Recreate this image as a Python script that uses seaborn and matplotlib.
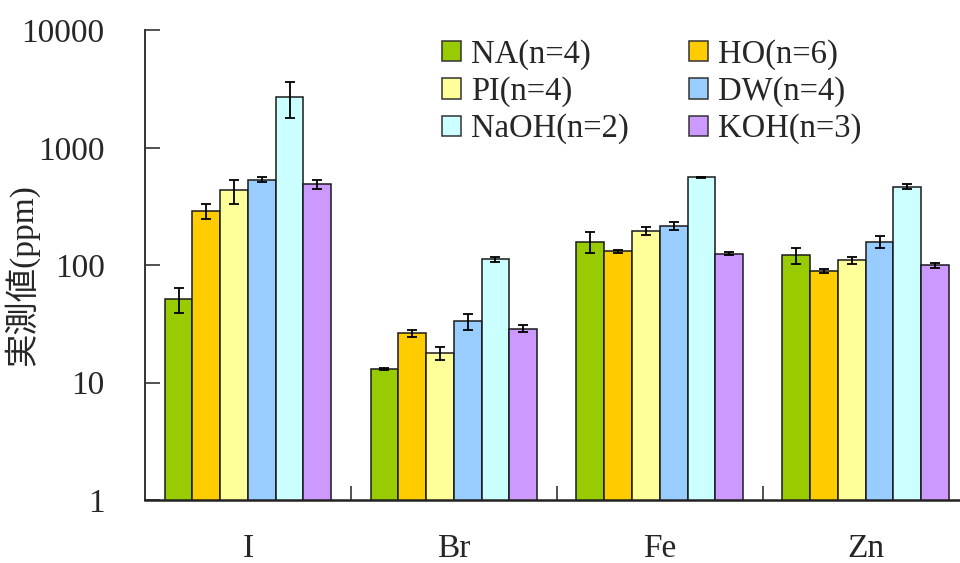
import numpy as np
import pandas as pd
import matplotlib
matplotlib.use("Agg")
import matplotlib.pyplot as plt
from matplotlib.patches import Patch
import seaborn as sns

# Measured concentrations (ppm): mean and standard deviation per element and extraction method
elements = ["I", "Br", "Fe", "Zn"]
methods = ["NA(n=4)", "HO(n=6)", "PI(n=4)", "DW(n=4)", "NaOH(n=2)", "KOH(n=3)"]
colors = ["#99CC00", "#FFCC00", "#FFFF99", "#99CCFF", "#CCFFFF", "#CC99FF"]

na_mean = [51.5, 13.1, 158, 122]
ho_mean = [290, 26.3, 131, 89]
pi_mean = [435, 17.9, 197, 110]
dw_mean = [535, 33.3, 216, 158]
naoh_mean = [2725, 112, 561, 466]
koh_mean = [489, 28.8, 125, 100]

na_sd = [12, 0.3, 32, 19]
ho_sd = [42, 2.0, 3, 3]
pi_sd = [100, 2.3, 15, 7]
dw_sd = [26, 5.0, 16, 18]
naoh_sd = [920, 5.0, 8, 22]
koh_sd = [42, 2.0, 4, 5]

y_ticks = [1, 10, 100, 1000, 10000]
y_tick_labels = ["1", "10", "100", "1000", "10000"]
y_label = "実測値(ppm)"

means = [na_mean, ho_mean, pi_mean, dw_mean, naoh_mean, koh_mean]
sds = [na_sd, ho_sd, pi_sd, dw_sd, naoh_sd, koh_sd]

rows = []
for m, mv, sv in zip(methods, means, sds):
    for e, v, s in zip(elements, mv, sv):
        rows.append({"element": e, "method": m, "value": v, "sd": s})
df = pd.DataFrame(rows)

sns.set_theme(style="ticks")
plt.rcParams["font.family"] = ["Liberation Serif", "Noto Sans CJK JP", "DejaVu Sans"]

fig = plt.figure(figsize=(9.6, 5.63), dpi=100)
ax = fig.add_axes([145 / 960, 63 / 563, 823.6 / 960, 469.6 / 563])

sns.barplot(
    data=df, x="element", y="value", hue="method",
    order=elements, hue_order=methods, palette=colors,
    width=0.809, gap=0, errorbar=None, legend=False,
    edgecolor="#1a1a1a", linewidth=1.1, saturation=1, ax=ax,
)

# error bars on top of each bar
for container, sv in zip(ax.containers, sds):
    xs = [p.get_x() + p.get_width() / 2 for p in container.patches]
    hs = [p.get_height() for p in container.patches]
    ax.errorbar(xs, hs, yerr=sv, fmt="none", ecolor="black",
                elinewidth=1.3, capsize=3.6, capthick=1.3, zorder=5)

ax.set_yscale("log")
ax.set_ylim(1, 10000)
ax.set_xlim(-0.5, len(elements) - 0.5)
ax.set_yticks(y_ticks)
ax.set_yticklabels(y_tick_labels)
ax.yaxis.set_minor_locator(matplotlib.ticker.NullLocator())

# category separators as inward major ticks, labels on minor ticks at group centres
ax.set_xticks(np.arange(0.5, len(elements) - 0.5, 1.0))
ax.set_xticklabels([])
ax.set_xticks(np.arange(len(elements)), minor=True)
ax.set_xticklabels(elements, minor=True)
ax.tick_params(axis="x", which="major", direction="in", length=10, width=1.2, color="#333333")
ax.tick_params(axis="x", which="minor", length=0, pad=24, labelsize=24)
ax.tick_params(axis="y", which="major", direction="in", length=11, width=1.2,
               color="#333333", pad=29, labelsize=24)

ax.set_xlabel("")
ax.set_ylabel(y_label, fontsize=24)
ax.yaxis.set_label_coords(-0.128, 0.48)

for side in ["top", "right"]:
    ax.spines[side].set_visible(False)
ax.spines["left"].set_color("#333333")
ax.spines["left"].set_linewidth(1.4)
ax.spines["bottom"].set_color("#222222")
ax.spines["bottom"].set_linewidth(1.8)

# legend laid out row by row: NA, HO / PI, DW / NaOH, KOH
handles = [Patch(facecolor=c, edgecolor="#333333", linewidth=1.1) for c in colors]
order = [0, 2, 4, 1, 3, 5]
fig.legend(
    [handles[i] for i in order], [methods[i] for i in order],
    loc="upper left", bbox_to_anchor=(442 / 960, 1 - 39 / 563),
    ncol=2, frameon=False, fontsize=23.5, handlelength=0.58, handleheight=0.58,
    handletextpad=0.3, columnspacing=1.85, labelspacing=0.2,
    borderpad=0, borderaxespad=0,
)

fig.savefig("out.png", dpi=100)
